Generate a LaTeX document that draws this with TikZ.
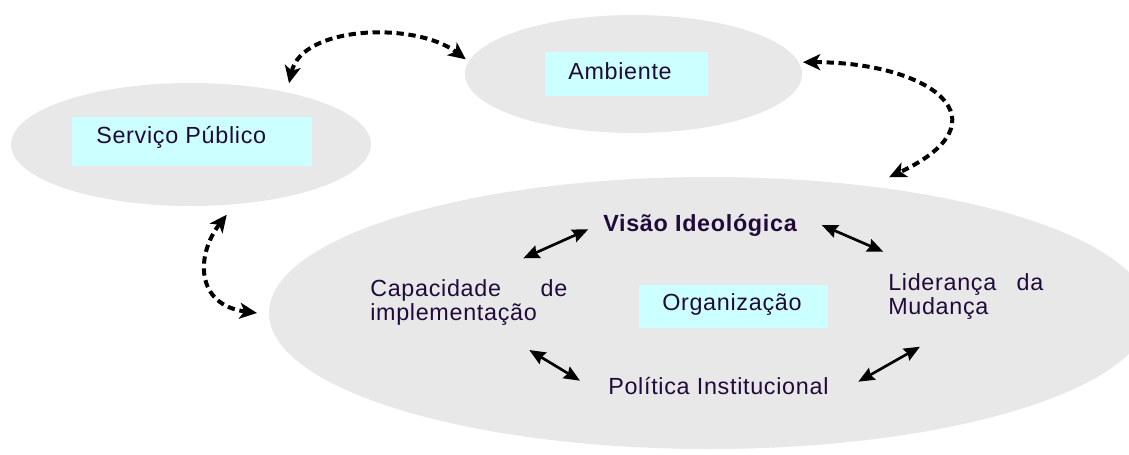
\documentclass[tikz,border=0pt]{standalone}
\usepackage{fontspec}
\setmainfont{Liberation Sans}[LetterSpace=3]
\usetikzlibrary{arrows.meta,shapes.geometric}

\definecolor{blobgray}{RGB}{232,232,232}
\definecolor{boxcyan}{RGB}{204,255,255}
\definecolor{txtcol}{RGB}{32,10,58}

\begin{document}
\begin{tikzpicture}[x=0.75pt,y=-0.75pt,
    blob/.style={ellipse,fill=blobgray,inner sep=0pt},
    cbox/.style={rectangle,fill=boxcyan,inner sep=0pt},
    lbl/.style={font=\fontsize{17.5pt}{18.5pt}\selectfont,text=txtcol,inner sep=0pt,anchor=base west},
    dasharr/.style={{Stealth[length=13pt,width=12pt,inset=3.5pt]}-{Stealth[length=13pt,width=12pt,inset=3.5pt]},line width=3pt,dash pattern=on 5.5pt off 3.5pt},
    biarr/.style={{Stealth[length=12pt,width=10pt,inset=1.5pt]}-{Stealth[length=12pt,width=10pt,inset=1.5pt]},line width=2pt}]
        \clip (0,0) rectangle (1129,454);
        \node[blob,minimum width=270pt,minimum height=92.25pt,outer sep=7.5pt] (serv) at (191,144.5) {};
        \node[blob,minimum width=252.75pt,minimum height=88.5pt,outer sep=3pt] (amb) at (633.5,74) {};
        \node[blob,minimum width=660pt,minimum height=204pt,outer sep=9pt] (org) at (709,313) {};
        \node[cbox,minimum width=180pt,minimum height=36.75pt] (servbox) at (192,141.5) {};
        \node[cbox,minimum width=122.25pt,minimum height=33pt] (ambbox) at (626.5,74) {};
        \node[cbox,minimum width=141.75pt,minimum height=32.25pt] (orgbox) at (733.5,306.5) {};
        \node[lbl] (servtxt) at (96,143) {Serviço Público};
        \node[lbl] (ambtxt) at (568,79) {Ambiente};
        \node[lbl] (orgtxt) at (662,310) {Organização};
        \node[lbl,font=\fontsize{17.5pt}{18.5pt}\selectfont\bfseries] (vis) at (603,231) {Visão Ideológica};
        \node[lbl,text width=147.75pt,align=left] (cap) at (370,296) {Capacidade\hfill de\\implementação};
        \node[lbl,text width=116.25pt,align=left] (lid) at (888,290) {Liderança\hfill da\\Mudança};
        \node[lbl] (pol) at (608,394) {Política Institucional};
        \draw[dasharr] (serv.32.8) .. controls +(13,-58) and +(-50,-38) .. (amb.175.3);
        \draw[dasharr] (amb.4) .. controls +(127,0) and +(121,-57) .. (org.37.9);
        \draw[dasharr] (serv.-63.3) .. controls +(-31,40) and +(-62,-8) .. (org.180);
        \draw[biarr] ([shift={(153.3,-37.7)}]cap.base west) -- ([shift={(-14.7,-1.7)}]vis.base west);
        \draw[biarr] ([shift={(218.7,-6)}]vis.base west) -- ([shift={(-4.7,-38.3)}]lid.base west);
        \draw[biarr] ([shift={(159.3,54)}]cap.base west) -- ([shift={(-28,-13.3)}]pol.base west);
        \draw[biarr] ([shift={(250.3,-12.3)}]pol.base west) -- ([shift={(32,56.7)}]lid.base west);
    \end{tikzpicture}
\end{document}
